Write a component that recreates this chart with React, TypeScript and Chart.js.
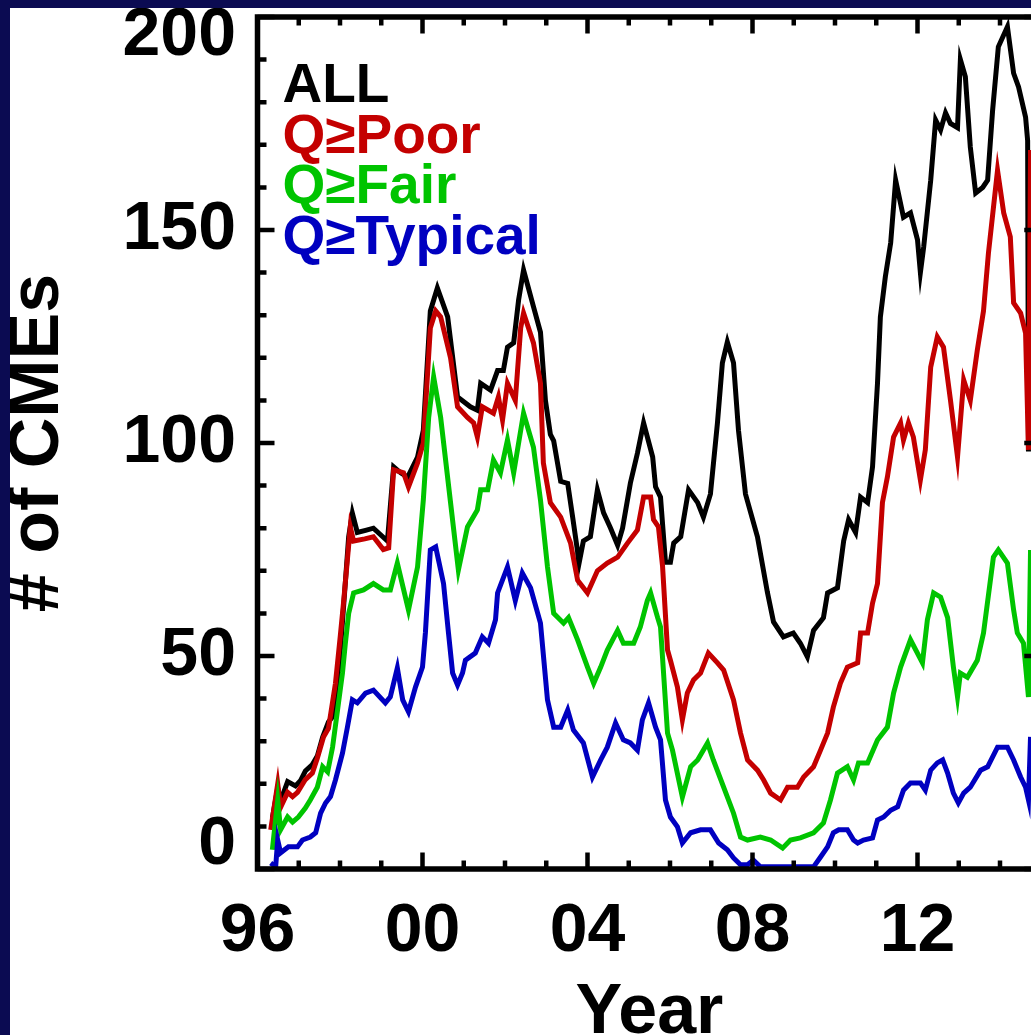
import React, { useEffect, useRef } from "react";
import { Chart, registerables } from "chart.js";

Chart.register(...registerables);

// [decimal year, number of CMEs]
const allCmes: [number, number][] = [
  [1996.36, 12], [1996.49, 19], [1996.56, 16], [1996.73, 20.5], [1996.92, 19.5], [1997.04, 20.7],
  [1997.16, 23], [1997.33, 24.5], [1997.45, 26.5], [1997.58, 31], [1997.72, 34.5], [1997.84, 36],
  [1997.96, 45], [1998.09, 62], [1998.21, 78], [1998.3, 83.5], [1998.42, 79], [1998.62, 79.5],
  [1998.81, 80], [1999.15, 77], [1999.3, 94.4], [1999.47, 93], [1999.64, 92], [1999.88, 96.7],
  [2000.02, 103], [2000.19, 131], [2000.36, 136.4], [2000.61, 129.6], [2000.85, 110.8], [2001.16, 108.5],
  [2001.33, 107.7], [2001.41, 114], [2001.65, 112.4], [2001.82, 117], [2001.96, 117], [2002.06, 122.5],
  [2002.21, 123.5], [2002.33, 133.6], [2002.45, 140.6], [2002.69, 132], [2002.86, 126], [2002.98, 110],
  [2003.1, 102], [2003.18, 100.5], [2003.35, 91], [2003.52, 90.5], [2003.64, 82.6], [2003.76, 74.5],
  [2003.78, 71], [2003.9, 77], [2004.07, 78], [2004.24, 89], [2004.39, 83.6], [2004.56, 80],
  [2004.73, 76], [2004.85, 80], [2005.04, 90.6], [2005.21, 97.6], [2005.36, 104.7], [2005.58, 96.7],
  [2005.65, 89.7], [2005.77, 87.3], [2005.89, 72], [2006.01, 72], [2006.09, 76.5], [2006.26, 78],
  [2006.45, 89], [2006.67, 86], [2006.81, 82.6], [2006.98, 88], [2007.15, 104.7], [2007.27, 118.8],
  [2007.39, 123.7], [2007.54, 118.8], [2007.66, 103], [2007.83, 88], [2008.12, 78], [2008.36, 65],
  [2008.51, 58], [2008.75, 54.5], [2008.99, 55.4], [2009.16, 53], [2009.33, 49.8], [2009.48, 56],
  [2009.72, 59], [2009.82, 64.8], [2010.06, 66], [2010.21, 77], [2010.33, 82], [2010.5, 79],
  [2010.62, 87.3], [2010.79, 86], [2010.91, 94.4], [2011.03, 114], [2011.1, 129.6], [2011.22, 139],
  [2011.35, 147], [2011.47, 161.7], [2011.66, 153], [2011.83, 154], [2012.0, 147.7], [2012.07, 140],
  [2012.15, 146], [2012.32, 161.7], [2012.44, 175.8], [2012.56, 173.5], [2012.68, 177.5], [2012.8, 175],
  [2012.97, 174], [2013.04, 190], [2013.16, 186], [2013.28, 169.5], [2013.41, 158.7], [2013.58, 160],
  [2013.7, 161.7], [2013.82, 178], [2013.96, 193], [2014.18, 197.7], [2014.33, 186.8], [2014.45, 183.6],
  [2014.62, 176.5], [2014.67, 171], [2014.69, 98],
];

const poorCmes: [number, number][] = [
  [1996.32, 9.2], [1996.49, 20], [1996.56, 14.5], [1996.73, 18], [1996.85, 17], [1996.97, 18],
  [1997.16, 21], [1997.33, 22.5], [1997.45, 26], [1997.6, 31], [1997.72, 33], [1997.89, 43.6],
  [1998.01, 55], [1998.09, 63], [1998.25, 80.3], [1998.33, 77], [1998.6, 77.5], [1998.81, 78],
  [1999.05, 75], [1999.18, 75.4], [1999.3, 93.7], [1999.54, 93], [1999.66, 89.7], [1999.88, 95.3],
  [2000.02, 100], [2000.19, 127], [2000.32, 131], [2000.44, 129.6], [2000.68, 120], [2000.85, 108.5],
  [2001.09, 106], [2001.24, 104.7], [2001.33, 101.4], [2001.45, 108.5], [2001.72, 107], [2001.84, 110.8],
  [2001.94, 105.4], [2002.06, 114], [2002.25, 110], [2002.38, 127], [2002.45, 130.5], [2002.69, 123.5],
  [2002.86, 114], [2002.93, 95.3], [2003.1, 86], [2003.35, 82.6], [2003.59, 76.5], [2003.76, 67.8],
  [2004.0, 64.8], [2004.24, 70], [2004.48, 71.8], [2004.73, 73.2], [2004.97, 76.5], [2005.21, 79.6],
  [2005.36, 87.3], [2005.53, 87.3], [2005.6, 82], [2005.72, 80.3], [2005.82, 71], [2005.94, 51.4],
  [2006.01, 49], [2006.18, 42.7], [2006.3, 35], [2006.42, 41.3], [2006.57, 44.4], [2006.74, 46],
  [2006.93, 50.7], [2007.15, 48.4], [2007.3, 46.7], [2007.54, 39.7], [2007.71, 31.9], [2007.88, 25.6],
  [2008.12, 23.2], [2008.27, 20.9], [2008.44, 17.8], [2008.68, 16.2], [2008.85, 19.2], [2009.09, 19.2],
  [2009.24, 21.6], [2009.48, 24], [2009.65, 27.9], [2009.82, 31.9], [2009.96, 38], [2010.13, 43.6],
  [2010.3, 47.4], [2010.55, 48.4], [2010.62, 55.4], [2010.79, 55.4], [2010.91, 62.4], [2011.03, 67],
  [2011.15, 86], [2011.27, 92], [2011.42, 101.4], [2011.59, 104.7], [2011.66, 100.7], [2011.78, 104.7],
  [2011.9, 101.4], [2012.07, 91.3], [2012.19, 98.4], [2012.32, 117.8], [2012.48, 124.9], [2012.63, 122.5],
  [2012.8, 110], [2012.97, 96.7], [2013.12, 114.8], [2013.28, 110], [2013.45, 121.8], [2013.6, 131],
  [2013.72, 144.6], [2013.94, 164], [2014.09, 154], [2014.25, 148.4], [2014.33, 132.9], [2014.5, 130.5],
  [2014.62, 125.8], [2014.69, 98.4], [2014.74, 168.8],
];

const fairCmes: [number, number][] = [
  [1996.36, 4.5], [1996.49, 16.2], [1996.56, 9.2], [1996.73, 12.2], [1996.85, 11], [1996.99, 12.2],
  [1997.16, 14.3], [1997.28, 16.2], [1997.45, 19.2], [1997.58, 24], [1997.7, 22.8], [1997.82, 28.6],
  [1997.94, 37.3], [1998.06, 46], [1998.13, 53], [1998.21, 60], [1998.33, 64.8], [1998.57, 65.5],
  [1998.81, 67], [1999.05, 65.5], [1999.22, 65.5], [1999.39, 71.8], [1999.66, 60.8], [1999.88, 70.9],
  [2000.02, 86.6], [2000.15, 106], [2000.27, 115.5], [2000.44, 106], [2000.68, 86], [2000.87, 70.2],
  [2001.09, 80.3], [2001.33, 84.3], [2001.41, 89], [2001.58, 89], [2001.72, 96], [2001.89, 93],
  [2002.06, 100.7], [2002.21, 93], [2002.45, 107], [2002.69, 99], [2002.86, 86.6], [2003.03, 70.9],
  [2003.18, 60], [2003.42, 57.7], [2003.54, 59], [2003.76, 53.8], [2004.0, 47.4], [2004.15, 43.6],
  [2004.32, 47.4], [2004.48, 51.4], [2004.73, 56], [2004.87, 53], [2005.12, 53], [2005.28, 56.8],
  [2005.45, 63], [2005.53, 64.8], [2005.7, 59], [2005.77, 56.8], [2005.94, 31.9], [2006.06, 27.9],
  [2006.3, 16.9], [2006.5, 24], [2006.67, 25.6], [2006.91, 29.6], [2007.05, 25.6], [2007.3, 19.2],
  [2007.54, 13.1], [2007.71, 7.5], [2007.88, 6.8], [2008.19, 7.5], [2008.44, 6.8], [2008.73, 4.9],
  [2008.92, 6.8], [2009.16, 7.3], [2009.48, 8.5], [2009.72, 10.8], [2009.89, 16.2], [2010.06, 22.5],
  [2010.3, 24], [2010.45, 20.9], [2010.57, 24.9], [2010.79, 24.9], [2011.03, 30.3], [2011.27, 33.3],
  [2011.42, 41.3], [2011.59, 47.4], [2011.83, 53.8], [2012.12, 48.4], [2012.24, 58.5], [2012.39, 64.8],
  [2012.56, 63.8], [2012.73, 59], [2012.87, 47.4], [2012.97, 40.4], [2013.04, 46], [2013.21, 45],
  [2013.45, 49], [2013.6, 55.4], [2013.84, 73.2], [2013.96, 74.9], [2014.18, 71.8], [2014.33, 60.8],
  [2014.42, 55.4], [2014.57, 53], [2014.69, 40.4], [2014.74, 74.9],
];

const typicalCmes: [number, number][] = [
  [1996.32, 1.4], [1996.44, 0.5], [1996.49, 6.8], [1996.56, 3.8], [1996.75, 5.2], [1996.97, 5.2],
  [1997.09, 6.8], [1997.28, 7.5], [1997.41, 8.5], [1997.53, 13.1], [1997.65, 15.5], [1997.77, 17],
  [1997.89, 20.9], [1998.06, 27.2], [1998.18, 33.3], [1998.3, 39.7], [1998.42, 39], [1998.62, 41.3],
  [1998.81, 42], [1999.1, 39], [1999.22, 40.4], [1999.39, 47.2], [1999.52, 39.7], [1999.66, 36.9],
  [1999.83, 42.7], [2000.0, 47.4], [2000.07, 55.4], [2000.19, 74.9], [2000.32, 75.6], [2000.51, 67],
  [2000.63, 55.4], [2000.73, 46], [2000.85, 43.2], [2000.97, 46], [2001.04, 49], [2001.28, 50.7],
  [2001.45, 54.5], [2001.6, 53], [2001.77, 58.5], [2001.82, 64.8], [2002.06, 70.9], [2002.25, 63],
  [2002.42, 69.5], [2002.62, 66], [2002.86, 57.7], [2003.03, 39.7], [2003.18, 33.3], [2003.35, 33.3],
  [2003.52, 37.3], [2003.66, 32.6], [2003.9, 29.6], [2004.12, 21.6], [2004.32, 25.6], [2004.48, 28.6],
  [2004.68, 34.3], [2004.87, 30.3], [2005.04, 29.6], [2005.21, 27.9], [2005.33, 35], [2005.48, 39],
  [2005.65, 33.3], [2005.77, 30.3], [2005.89, 16.2], [2006.01, 12.2], [2006.18, 9.9], [2006.3, 6.1],
  [2006.5, 8.5], [2006.74, 9.2], [2006.98, 9.2], [2007.18, 6.1], [2007.39, 4.5], [2007.54, 2.6],
  [2007.71, 1], [2007.88, 1], [2008.02, 2.1], [2008.19, 0.5], [2009.48, 0.5], [2009.65, 2.8],
  [2009.82, 5.2], [2009.96, 8.5], [2010.09, 9.2], [2010.3, 9.2], [2010.45, 6.8], [2010.55, 6.1],
  [2010.69, 6.8], [2010.91, 7.3], [2011.03, 11.5], [2011.18, 12.2], [2011.35, 13.8], [2011.52, 14.6],
  [2011.66, 18.5], [2011.83, 20.2], [2012.07, 20.2], [2012.19, 18.5], [2012.32, 23.2], [2012.48, 24.9],
  [2012.61, 25.6], [2012.73, 22.5], [2012.87, 17.8], [2012.99, 15.5], [2013.12, 17.8], [2013.28, 19.2],
  [2013.53, 23.2], [2013.7, 24], [2013.94, 28.6], [2014.18, 28.6], [2014.33, 25.6], [2014.5, 21.6],
  [2014.62, 19.2], [2014.69, 16.2], [2014.74, 31],
];

const seriesLabels = ["ALL", "Q\u2265Poor", "Q\u2265Fair", "Q\u2265Typical"];
const seriesColors = ["#000000", "#c40000", "#00c400", "#0000c0"];
const seriesData = [allCmes, poorCmes, fairCmes, typicalCmes];
const yTickValues = [0, 50, 100, 150, 200];
const X_MIN = 1996;
const X_MAX = 2015;
const X_STEP = 4;

const FONT = '"Liberation Sans", Arial, Helvetica, sans-serif';

const idlAxesPlugin = {
  id: "idlAxes",
  afterDraw(chart: any) {
    const { ctx, chartArea: a, scales } = chart;
    const xs = scales.x;
    const ys = scales.y;
    ctx.save();
    ctx.strokeStyle = "#000";
    ctx.lineCap = "butt";
    // frame
    ctx.lineWidth = 5.5;
    ctx.strokeRect(a.left, a.top, a.right - a.left, a.bottom - a.top);
    // inward tick marks
    ctx.lineWidth = 4.5;
    ctx.beginPath();
    for (let yr = X_MIN; yr <= X_MAX; yr++) {
      const px = xs.getPixelForValue(yr);
      const len = (yr - X_MIN) % X_STEP === 0 ? 16.5 : 8.5;
      ctx.moveTo(px, a.bottom);
      ctx.lineTo(px, a.bottom - len);
      ctx.moveTo(px, a.top);
      ctx.lineTo(px, a.top + len);
    }
    for (let v = 0; v <= 200; v += 10) {
      const py = ys.getPixelForValue(v);
      const len = v % 50 === 0 ? 17 : 9;
      ctx.moveTo(a.left, py);
      ctx.lineTo(a.left + len, py);
      ctx.moveTo(a.right, py);
      ctx.lineTo(a.right - len, py);
    }
    ctx.stroke();
    // y tick labels (kept inside the axis span, as in the original)
    ctx.fillStyle = "#000";
    ctx.font = `bold 68px ${FONT}`;
    ctx.textAlign = "right";
    ctx.textBaseline = "middle";
    yTickValues.forEach((v) => {
      const py = Math.min(Math.max(ys.getPixelForValue(v), a.top + 19), a.bottom - 24);
      ctx.fillText(String(v), a.left - 21.5, py);
    });
    // legend (coloured text only)
    ctx.font = `bold 55px ${FONT}`;
    ctx.textAlign = "left";
    ctx.textBaseline = "alphabetic";
    chart.data.datasets.forEach((ds: any, i: number) => {
      ctx.fillStyle = ds.borderColor;
      ctx.fillText(ds.label, a.left + 25, a.top + 85 + i * 50.5);
    });
    ctx.restore();
  },
};

export default function App() {
  const ref = useRef<HTMLCanvasElement>(null);

  useEffect(() => {
    if (!ref.current) return;
    const chart = new Chart(ref.current, {
      type: "line",
      data: {
        datasets: seriesData.map((d, i) => ({
          label: seriesLabels[i],
          data: d.map(([x, y]) => ({ x, y })),
          borderColor: seriesColors[i],
          backgroundColor: seriesColors[i],
          borderWidth: 5,
          pointRadius: 0,
          tension: 0,
          fill: false,
          order: seriesData.length - 1 - i,
        })),
      },
      options: {
        responsive: false,
        animation: false,
        devicePixelRatio: 1,
        layout: { padding: { left: 0, top: 9, right: 68.75, bottom: 59 } },
        plugins: { legend: { display: false }, tooltip: { enabled: false } },
        scales: {
          x: {
            type: "linear",
            min: X_MIN,
            max: X_MAX,
            afterFit: (s: any) => {
              s.height = 180;
            },
            grid: { display: false, drawTicks: false },
            border: { display: false },
            ticks: {
              stepSize: X_STEP,
              includeBounds: false,
              autoSkip: false,
              maxRotation: 0,
              padding: 29.5,
              color: "#000",
              font: { family: FONT, size: 68, weight: "bold", lineHeight: 1 },
              callback: (v: any) => String(v).slice(-2),
            },
            title: {
              display: true,
              text: "Year",
              color: "#000",
              font: { family: FONT, size: 70, weight: "bold", lineHeight: 1 },
              padding: { top: 0, bottom: 0 },
            },
          },
          y: {
            type: "linear",
            min: 0,
            max: 200,
            afterFit: (s: any) => {
              s.width = 247.5;
            },
            grid: { display: false, drawTicks: false },
            border: { display: false },
            ticks: { display: false, stepSize: 50 },
            title: {
              display: true,
              text: "# of CMEs",
              color: "#000",
              font: { family: FONT, size: 70, weight: "bold", lineHeight: 0.8 },
              padding: { top: 1, bottom: 0 },
            },
          },
        },
      } as any,
      plugins: [idlAxesPlugin],
    });
    return () => chart.destroy();
  }, []);

  return (
    <div
      style={{
        position: "fixed",
        left: 0,
        top: 0,
        width: 1031,
        height: 1035,
        overflow: "hidden",
        background: "#0b0b52",
      }}
    >
      <canvas
        ref={ref}
        width={1100}
        height={1100}
        style={{
          position: "absolute",
          left: 10,
          top: 8,
          width: 1100,
          height: 1100,
          background: "#ffffff",
          display: "block",
        }}
      />
    </div>
  );
}
